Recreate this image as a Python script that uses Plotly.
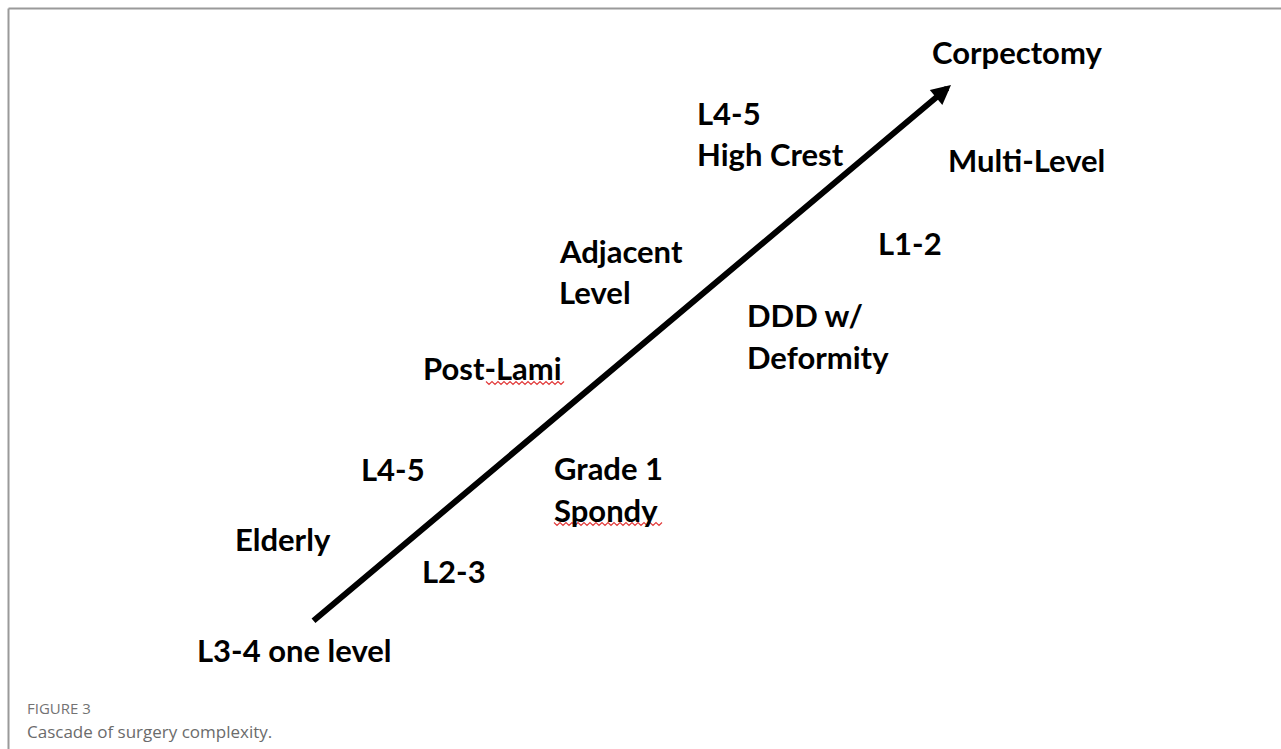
import plotly.graph_objects as go

# Diagram content (pixel-space coordinates of a 1281x749 canvas, y downward)
labels = ["Corpectomy", "L4-5", "High Crest", "Multi-Level", "Adjacent", "Level",
          "L1-2", "DDD w/", "Deformity", "Post-Lami", "L4-5", "Grade 1", "Spondy",
          "Elderly", "L2-3", "L3-4 one level"]
label_x = [932, 697, 697, 948, 559, 559, 878, 747, 747, 423, 361, 554, 554, 235, 422, 197]
label_y = [52, 113, 154, 160, 251, 292, 243, 315, 357, 368, 469, 468, 510, 539, 571, 650]

arrow_start = (312, 622)
arrow_end = (951, 85)

caption_title = "FIGURE 3"
caption_text = "Cascade of surgery complexity."

W, H = 1281, 749
FONT = "Lato"
FS = 31

fig = go.Figure()

annotations = []
for t, x, y in zip(labels, label_x, label_y):
    annotations.append(dict(
        x=x, y=y, xref="x", yref="y", text="<b>" + t + "</b>",
        showarrow=False, xanchor="left", yanchor="middle", xshift=-2,
        font=dict(family=FONT, size=FS, color="#000000"),
    ))

annotations.append(dict(
    x=arrow_end[0], y=arrow_end[1], xref="x", yref="y",
    ax=arrow_start[0], ay=arrow_start[1], axref="x", ayref="y",
    text="", showarrow=True, arrowhead=2, arrowsize=0.65, arrowwidth=6,
    arrowcolor="#000000", standoff=0, startstandoff=0,
))

annotations.append(dict(
    x=25, y=708, xref="x", yref="y", text=caption_title, showarrow=False,
    xanchor="left", yanchor="middle",
    font=dict(family="Open Sans", size=15, color="#737373"),
))
annotations.append(dict(
    x=25, y=731, xref="x", yref="y", text=caption_text, showarrow=False,
    xanchor="left", yanchor="middle",
    font=dict(family="Open Sans", size=17, color="#6b6b6b"),
))

# spell-check squiggles (decorative)
def squiggle(x0, x1, y):
    pts = []
    x = x0
    up = True
    while x <= x1:
        pts.append(f"{x},{y - 1.5 if up else y + 1.5}")
        x += 3
        up = not up
    return "M" + " L".join(pts)

shapes = [
    dict(type="line", xref="paper", yref="paper", x0=8.5 / W, x1=1, y0=1 - 8.5 / H, y1=1 - 8.5 / H,
         line=dict(color="#9a9a9a", width=2)),
    dict(type="line", xref="paper", yref="paper", x0=8.5 / W, x1=8.5 / W, y0=0, y1=1 - 8.5 / H,
         line=dict(color="#9a9a9a", width=2)),
    dict(type="path", xref="x", yref="y", path=squiggle(486, 564, 383),
         line=dict(color="#e23b3b", width=1.2)),
    dict(type="path", xref="x", yref="y", path=squiggle(554, 664, 524),
         line=dict(color="#e23b3b", width=1.2)),
]

fig.update_layout(
    width=W, height=H, margin=dict(l=0, r=0, t=0, b=0),
    paper_bgcolor="#ffffff", plot_bgcolor="#ffffff",
    xaxis=dict(range=[0, W], visible=False, fixedrange=True),
    yaxis=dict(range=[H, 0], visible=False, fixedrange=True),
    annotations=annotations, shapes=shapes, showlegend=False,
)

fig.write_html("out.html", config={"displayModeBar": False},
               post_script="document.body.style.margin='0';document.body.style.overflow='hidden';")
